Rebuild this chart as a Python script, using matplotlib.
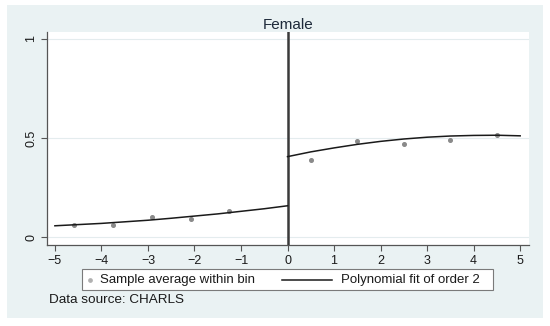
import numpy as np
import matplotlib.pyplot as plt
from matplotlib.lines import Line2D
from matplotlib.patches import Rectangle

# binned sample averages
bin_x_left = [-4.58, -3.75, -2.92, -2.08, -1.25]
bin_y_left = [0.060, 0.062, 0.103, 0.090, 0.133]
bin_x_right = [0.5, 1.5, 2.5, 3.5, 4.5]
bin_y_right = [0.389, 0.486, 0.472, 0.490, 0.514]

# fitted polynomial
fit_x_left = [-5, -4.5, -4, -3.5, -3, -2.5, -2, -1.5, -1, -0.5, 0]
fit_y_left = [0.057, 0.063, 0.069, 0.077, 0.085, 0.095, 0.106, 0.117, 0.130, 0.143, 0.158]
fit_x_right = [0, 0.5, 1, 1.5, 2, 2.5, 3, 3.5, 4, 4.5, 5]
fit_y_right = [0.406, 0.430, 0.450, 0.468, 0.483, 0.495, 0.504, 0.510, 0.513, 0.514, 0.511]

x_ticks = [-5, -4, -3, -2, -1, 0, 1, 2, 3, 4, 5]
y_ticks = [0, 0.5, 1]
y_tick_labels = ['0', '0.5', '1']
legend_labels = ['Sample average within bin', 'Polynomial fit of order 2']

plt.rcParams['font.family'] = ['Liberation Sans', 'DejaVu Sans']

W, H = 550, 326
def fx(px):
    return px / W
def fy(py):
    return 1 - py / H

bg = '#eaf2f3'
dot_color = '#8a8a8a'
line_color = '#1a1a1a'

fig = plt.figure(figsize=(5.5, 3.26), dpi=100, facecolor='white')
fig.patches.append(Rectangle((fx(7), fy(318)), 536 / W, 313 / H,
                             transform=fig.transFigure, facecolor=bg,
                             edgecolor='none', zorder=-10))
ax = fig.add_axes([fx(47), fy(245), 482 / W, 213 / H])
ax.set_facecolor('white')

for y in y_ticks:
    ax.axhline(y, color='#e4ecee', linewidth=0.8, zorder=0)

ax.axvline(0, color='#3a3a3a', linewidth=1.8, zorder=3)

ax.plot(bin_x_left, bin_y_left, 'o', color=dot_color, markersize=2.6, zorder=4)
ax.plot(bin_x_right, bin_y_right, 'o', color=dot_color, markersize=2.6, zorder=4)
ax.plot(fit_x_left, fit_y_left, '-', color=line_color, linewidth=1.1, zorder=5)
ax.plot(fit_x_right, fit_y_right, '-', color=line_color, linewidth=1.1, zorder=5)

ax.set_xlim(-5.17, 5.19)
ax.set_ylim(-0.04, 1.035)
ax.set_xticks(x_ticks)
ax.set_xticklabels(['\u2212' + str(-t) if t < 0 else str(t) for t in x_ticks])
ax.set_yticks(y_ticks)
ax.set_yticklabels(y_tick_labels, rotation=90, va='center')

for side in ['top', 'right']:
    ax.spines[side].set_visible(False)
for side in ['left', 'bottom']:
    ax.spines[side].set_color('#555555')
    ax.spines[side].set_linewidth(0.9)
ax.tick_params(axis='both', direction='out', length=4, width=0.8,
               color='#555555', labelsize=9, labelcolor='#1a1a1a', pad=3)

ax.set_title('Female', fontsize=11, color='#1e2a3a', pad=2.5)

# legend box drawn by hand so the two keys sit where Stata puts them
fig.patches.append(Rectangle((fx(82), fy(290)), 411 / W, 21 / H,
                             transform=fig.transFigure, facecolor='white',
                             edgecolor='#7a7a7a', linewidth=0.8, zorder=5))
ly = fy(279.5)
fig.add_artist(Line2D([fx(90)], [ly], marker='o', linestyle='none',
                      color='#b0b0b0', markersize=2.4, zorder=6))
fig.text(fx(100), ly, legend_labels[0], fontsize=9.5, color=line_color,
         ha='left', va='center', zorder=6)
fig.add_artist(Line2D([fx(282), fx(332)], [ly, ly], color=line_color,
                      linewidth=1.1, zorder=6))
fig.text(fx(341), ly, legend_labels[1], fontsize=9.5, color=line_color,
         ha='left', va='center', zorder=6)

fig.text(fx(49), fy(300), 'Data source: CHARLS', fontsize=9.7,
         color=line_color, ha='left', va='center')

fig.savefig('out.png', dpi=100, facecolor=fig.get_facecolor())
